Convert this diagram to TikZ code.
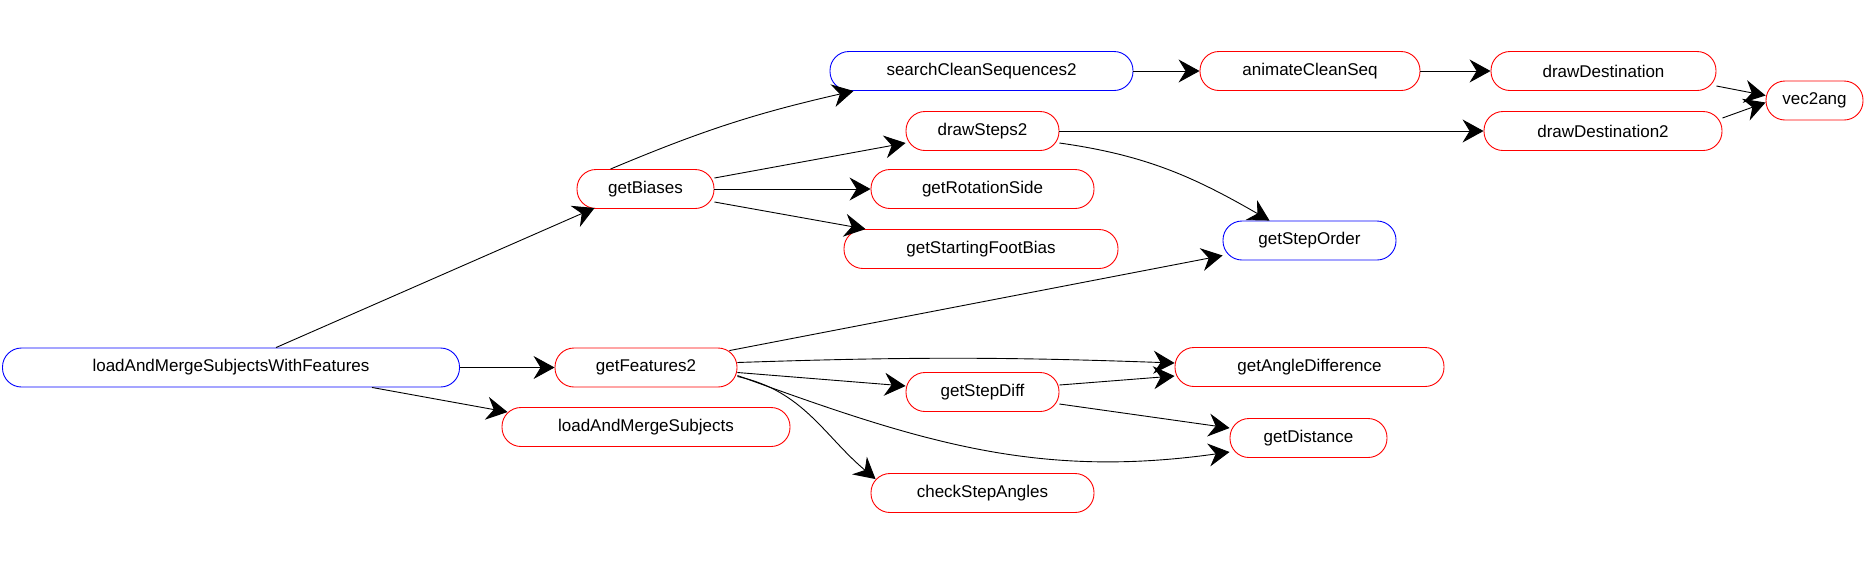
\documentclass[tikz,border=0pt]{standalone}
\usepackage{fontspec}
\setmainfont{Liberation Sans}
\usetikzlibrary{arrows.meta}
\begin{document}
\begin{tikzpicture}[x=1pt,y=-1pt,
  nbase/.style={rounded corners=19pt, minimum height=39pt, inner sep=0pt, line width=0.9pt, font=\fontsize{17}{20}\selectfont},
  rnode/.style={nbase, draw=red},
  bnode/.style={nbase, draw=blue},
  edge/.style={line width=0.9pt, -{Stealth[length=21pt,width=23pt,inset=7pt]}}]
\useasboundingbox (0,0) rectangle (1865,566);
\node[bnode, minimum width=457pt] (lamswf) at (231,367.5) {loadAndMergeSubjectsWithFeatures};
\node[rnode, minimum width=182pt] (gf2) at (646,367.5) {getFeatures2};
\node[rnode, minimum width=288pt] (lams) at (646,427) {loadAndMergeSubjects};
\node[rnode, minimum width=137pt] (gb) at (645.5,189) {getBiases};
\node[bnode, minimum width=303pt] (scs) at (981.5,71) {searchCleanSequences2};
\node[rnode, minimum width=153pt] (ds2) at (982.5,131) {drawSteps2};
\node[rnode, minimum width=223pt] (grs) at (982.5,189) {getRotationSide};
\node[rnode, minimum width=274pt] (gsfb) at (981,249) {getStartingFootBias};
\node[rnode, minimum width=220pt] (acs) at (1310,71) {animateCleanSeq};
\node[rnode, minimum width=225pt] (dd) at (1603.5,71) {drawDestination};
\node[rnode, minimum width=238pt] (dd2) at (1603,131) {drawDestination2};
\node[rnode, minimum width=97pt] (v2a) at (1814.5,100.5) {vec2ang};
\node[bnode, minimum width=173pt] (gso) at (1309.5,240.5) {getStepOrder};
\node[rnode, minimum width=269pt] (gad) at (1309.5,367) {getAngleDifference};
\node[rnode, minimum width=153pt] (gsd) at (982.5,392) {getStepDiff};
\node[rnode, minimum width=157pt] (gd) at (1308.5,438) {getDistance};
\node[rnode, minimum width=223pt] (csa) at (982.5,493) {checkStepAngles};

\draw[edge] ([xshift=45pt]lamswf.north) -- ([xshift=18pt,yshift=1pt]gb.south west);
\draw[edge] (lamswf.east) -- (gf2.west);
\draw[edge] ([xshift=141pt]lamswf.south) -- ([xshift=6pt,yshift=-5pt]lams.north west);
\draw[edge] ([xshift=-35pt]gb.north) to[bend left=5] ([xshift=24pt]scs.south west);
\draw[edge] ([yshift=11pt]gb.east) -- ([yshift=-12pt]ds2.west);
\draw[edge] (gb.east) -- (grs.west);
\draw[edge] ([yshift=-13pt]gb.east) -- ([xshift=22pt]gsfb.north west);
\draw[edge] (scs.east) -- (acs.west);
\draw[edge] (acs.east) -- (dd.west);
\draw[edge] ([yshift=-15pt]dd.east) -- ([yshift=5pt]v2a.west);
\draw[edge] ([yshift=13pt]dd2.east) -- ([yshift=-2pt]v2a.west);
\draw[edge] (ds2.east) -- (dd2.west);
\draw[edge] ([yshift=-12pt]ds2.east) to[out=-8,in=150] ([xshift=-40pt]gso.north);
\draw[edge] ([xshift=-8pt,yshift=-3pt]gf2.north east) -- ([yshift=-15pt]gso.west);
\draw[edge] ([yshift=5pt]gf2.east) to[bend left=2] ([yshift=4pt]gad.west);
\draw[edge] ([yshift=-5pt]gf2.east) -- ([yshift=6pt]gsd.west);
\draw[edge] ([yshift=-8pt]gf2.east) to[out=-20,in=188] ([yshift=-14pt]gd.west);
\draw[edge] ([yshift=-9pt]gf2.east) to[out=-12,in=140] ([xshift=5pt,yshift=-6pt]csa.north west);
\draw[edge] ([yshift=7pt]gsd.east) -- ([yshift=-9pt]gad.west);
\draw[edge] ([yshift=-12pt]gsd.east) -- ([yshift=10pt]gd.west);
\end{tikzpicture}
\end{document}
